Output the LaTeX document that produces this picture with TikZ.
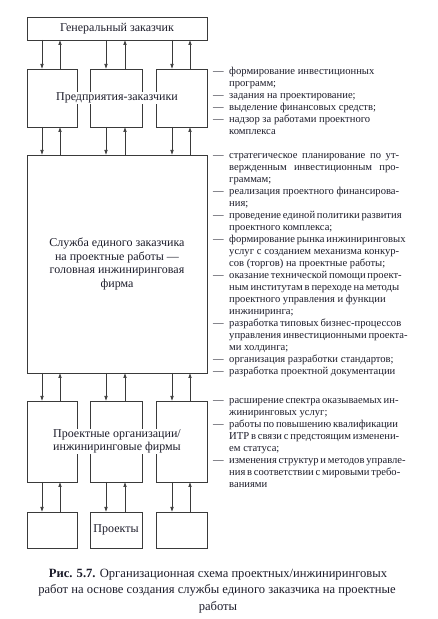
\documentclass[tikz,border=0pt]{standalone}
\usepackage{fontspec}
\setmainfont{Liberation Serif}
\usetikzlibrary{arrows.meta}
\definecolor{ln}{HTML}{3A3A3A}
\definecolor{tx}{HTML}{1C1C2A}
\newcommand\dl[3]{\node[coltext] (#1d) at (213,{615.5-#2}) {—};\node[coltext] (#1) at (229,{615.5-#2}) {#3};}
\newcommand\cl[3]{\node[coltext] (#1) at (229,{615.5-#2}) {#3};}
\newcommand\jst[2]{\makebox[#1][s]{#2}}
\begin{document}
\begin{tikzpicture}[x=1pt,y=1pt,
  box/.style={draw=ln, line width=0.7pt, inner sep=0pt, outer sep=0pt},
  arr/.style={draw=ln, line width=0.6pt, -{Latex[length=5pt,width=3.6pt]}},
  lbl/.style={text=tx, font=\fontsize{12}{13.5}\selectfont, align=center},
  wlbl/.style={lbl, fill=white, inner sep=1pt},
  coltext/.style={text=tx, font=\fontsize{10.6}{12}\selectfont, anchor=base west, inner sep=0pt},
  captxt/.style={text=tx, font=\fontsize{12.6}{15}\selectfont, anchor=base, inner sep=0pt}]
\useasboundingbox (0,0) rectangle (438,619);
% boxes
\node[box, lbl, minimum width=180pt, minimum height=23pt] (gen) at (117,590.5) {Генеральный заказчик};
\node[box, minimum width=50pt, minimum height=58pt] (e1) at (52,521) {};
\node[box, minimum width=52pt, minimum height=58pt] (e2) at (116,521) {};
\node[box, minimum width=51pt, minimum height=58pt] (e3) at (181.5,521) {};
\node[wlbl] (elbl) at (117,521) {Предприятия-заказчики};
\node[box, lbl, minimum width=180pt, minimum height=218pt] (svc) at (117,355) {Служба единого заказчика\\на проектные работы —\\головная инжиниринговая\\фирма};
\node[box, minimum width=50pt, minimum height=81pt] (p1) at (52,177.5) {};
\node[box, minimum width=52pt, minimum height=81pt] (p2) at (116,177.5) {};
\node[box, minimum width=51pt, minimum height=81pt] (p3) at (181.5,177.5) {};
\node[wlbl] (plbl) at (117,177.5) {Проектные организации/\\инжиниринговые фирмы};
\node[box, minimum width=50pt, minimum height=36pt] (q1) at (52,89) {};
\node[box, lbl, minimum width=52pt, minimum height=36pt] (q2) at (116,89) {Проекты};
\node[box, minimum width=51pt, minimum height=36pt] (q3) at (181.5,89) {};
% arrow x positions
\coordinate (ax1) at (42,0);
\coordinate (ax2) at (60,0);
\coordinate (ax3) at (106,0);
\coordinate (ax4) at (125,0);
\coordinate (ax5) at (172,0);
\coordinate (ax6) at (190,0);
\foreach \i/\d/\u in {1/ax1/ax2, 2/ax3/ax4, 3/ax5/ax6}{
  \draw[arr] (gen.south -| \d) -- (e\i.north -| \d);
  \draw[arr] (e\i.north -| \u) -- (gen.south -| \u);
  \draw[arr] (e\i.south -| \d) -- (svc.north -| \d);
  \draw[arr] (svc.north -| \u) -- (e\i.south -| \u);
  \draw[arr] (svc.south -| \d) -- (p\i.north -| \d);
  \draw[arr] (p\i.north -| \u) -- (svc.south -| \u);
  \draw[arr] (p\i.south -| \d) -- (q\i.north -| \d);
  \draw[arr] (q\i.north -| \u) -- (p\i.south -| \u);
}
% group 1
\dl{a1}{71}{формирование инвестиционных}
\cl{a2}{83}{программ;}
\dl{a3}{95}{задания на проектирование;}
\dl{a4}{107}{выделение финансовых средств;}
\dl{a5}{119}{надзор за работами проектного}
\cl{a6}{131}{комплекса}
% group 2
\dl{b1}{155}{\jst{170pt}{стратегическое планирование по ут-}}
\cl{b2}{167}{\jst{170pt}{вержденным инвестиционным про-}}
\cl{b3}{179}{граммам;}
\dl{b4}{191}{\jst{170pt}{реализация проектного финансирова-}}
\cl{b5}{203}{ния;}
\dl{b6}{215}{\jst{170pt}{проведение единой политики развития}}
\cl{b7}{227}{проектного комплекса;}
\dl{b8}{239}{\jst{170pt}{формирование рынка инжиниринговых}}
\cl{b9}{251}{\jst{170pt}{услуг с созданием механизма конкур-}}
\cl{b10}{263}{сов (торгов) на проектные работы;}
\dl{b11}{275}{\jst{170pt}{оказание технической помощи проект-}}
\cl{b12}{287}{\jst{170pt}{ным институтам в переходе на методы}}
\cl{b13}{299}{проектного управления и функции}
\cl{b14}{311}{инжиниринга;}
\dl{b15}{323}{\jst{170pt}{разработка типовых бизнес-процессов}}
\cl{b16}{335}{\jst{170pt}{управления инвестиционными проекта-}}
\cl{b17}{347}{ми холдинга;}
\dl{b18}{359}{организация разработки стандартов;}
\dl{b19}{371}{разработка проектной документации}
% group 3
\dl{c1}{400}{\jst{154pt}{расширение спектра оказываемых ин-}}
\cl{c2}{412}{жиниринговых услуг;}
\dl{c3}{424}{\jst{154pt}{работы по повышению квалификации}}
\cl{c4}{436}{\jst{170pt}{ИТР в связи с предстоящим изменени-}}
\cl{c5}{448}{ем статуса;}
\dl{c6}{460}{\jst{170pt}{изменения структур и методов управле-}}
\cl{c7}{472}{\jst{170pt}{ния в соответствии с мировыми требо-}}
\cl{c8}{484}{ваниями}
% caption
\node[captxt] (cap1) at (218,{619-578}) {\textbf{Рис. 5.7.} Организационная схема проектных/инжиниринговых};
\node[captxt] (cap2) at (217,{619-594}) {работ на основе создания службы единого заказчика на проектные};
\node[captxt] (cap3) at (218,{619-610}) {работы};
\end{tikzpicture}
\end{document}
